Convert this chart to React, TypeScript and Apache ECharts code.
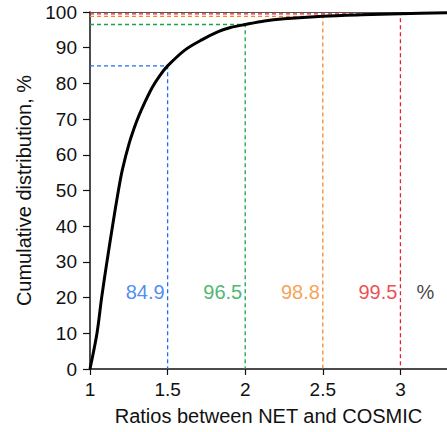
import React, { useEffect, useRef } from "react";
import * as echarts from "echarts";

const curveX = [1, 1.045, 1.075, 1.109, 1.145, 1.183, 1.208, 1.251, 1.3, 1.336, 1.4, 1.45, 1.5, 1.613, 1.72, 1.826, 1.9, 2.0, 2.124, 2.25, 2.5, 2.75, 3.0, 3.3];
const curveY = [0, 10, 20, 30, 40, 50, 55.7, 63.0, 69.3, 73.1, 78.8, 82.2, 84.9, 89.4, 92.2, 94.5, 95.6, 96.5, 97.5, 98.1, 98.8, 99.2, 99.5, 99.8];

const markRatios = [1.5, 2.0, 2.5, 3.0];
const markValues = [84.9, 96.5, 98.8, 99.5];
const markColors = ["#1e6ff0", "#1aa34d", "#f5892a", "#e8202a"];
const labelY = 21.7;
const unitX = 3.16;
const unitLabel = "%";

const xTicks = [1, 1.5, 2, 2.5, 3];

export default function App() {
  const ref = useRef<HTMLDivElement>(null);
  useEffect(() => {
    const chart = echarts.init(ref.current!, null, { renderer: "svg" });
    const font = "'Liberation Sans', Arial, Helvetica, sans-serif";
    const guideSeries = markRatios.map((r, i) => ({
      type: "line",
      data: [
        [1, markValues[i]],
        [r, markValues[i]],
        [r, 0],
      ],
      symbol: "none",
      lineStyle: { color: markColors[i], width: 1.3, type: [4, 3] },
      z: 2,
      silent: true,
    }));
    const labelSeries = markRatios.map((r, i) => ({
      type: "scatter",
      data: [[r, labelY]],
      symbolSize: 0,
      z: 4,
      label: {
        show: true,
        position: "left",
        distance: 3,
        formatter: () => markValues[i].toFixed(1),
        color: markColors[i],
        fontSize: 20,
        fontFamily: font,
      },
      silent: true,
    }));
    chart.setOption({
      animation: false,
      backgroundColor: "#fff",
      grid: { left: 90, top: 12, right: 0, bottom: 63, containLabel: false },
      xAxis: [
        {
          type: "value",
          min: 1,
          max: 3.3,
          interval: 0.5,
          name: "Ratios between NET and COSMIC",
          nameLocation: "middle",
          nameGap: 37,
          nameTextStyle: { color: "#111", fontSize: 20, fontFamily: font },
          axisLine: { show: true, onZero: false, lineStyle: { color: "#111", width: 1.5 } },
          axisTick: { show: true, length: 6, lineStyle: { color: "#111", width: 1.2 } },
          axisLabel: {
            color: "#111",
            fontSize: 19,
            fontFamily: font,
            margin: 11,
            showMaxLabel: false,
            formatter: (v: number) => (xTicks.includes(Math.round(v * 10) / 10) ? String(v) : ""),
          },
          splitLine: { show: false },
        },
        {
          type: "value",
          position: "top",
          min: 1,
          max: 3.3,
          axisLine: { show: true, onZero: false, lineStyle: { color: "#555", width: 1 } },
          axisTick: { show: false },
          axisLabel: { show: false },
          splitLine: { show: false },
        },
      ],
      yAxis: {
        type: "value",
        min: 0,
        max: 100,
        interval: 10,
        name: "Cumulative distribution, %",
        nameLocation: "middle",
        nameRotate: 90,
        nameGap: 50,
        nameTextStyle: { color: "#111", fontSize: 20, fontFamily: font },
        axisLine: { show: true, onZero: false, lineStyle: { color: "#111", width: 1.5 } },
        axisTick: { show: true, length: 7, lineStyle: { color: "#111", width: 1.2 } },
        axisLabel: { color: "#111", fontSize: 19, fontFamily: font, margin: 13 },
        splitLine: { show: false },
      },
      series: [
        ...guideSeries,
        {
          type: "line",
          data: curveX.map((x, i) => [x, curveY[i]]),
          symbol: "none",
          smooth: 0.3,
          lineStyle: { color: "#000", width: 3 },
          z: 3,
          silent: true,
        },
        ...labelSeries,
        {
          type: "scatter",
          data: [[unitX, labelY]],
          symbolSize: 0,
          z: 4,
          label: {
            show: true,
            position: "inside",
            formatter: () => unitLabel,
            color: "#111",
            fontSize: 20,
            fontFamily: font,
          },
          silent: true,
        },
      ],
    });
    return () => chart.dispose();
  }, []);
  return (
    <div
      ref={ref}
      style={{ position: "fixed", left: 0, top: 0, width: 447, height: 432 }}
    />
  );
}
